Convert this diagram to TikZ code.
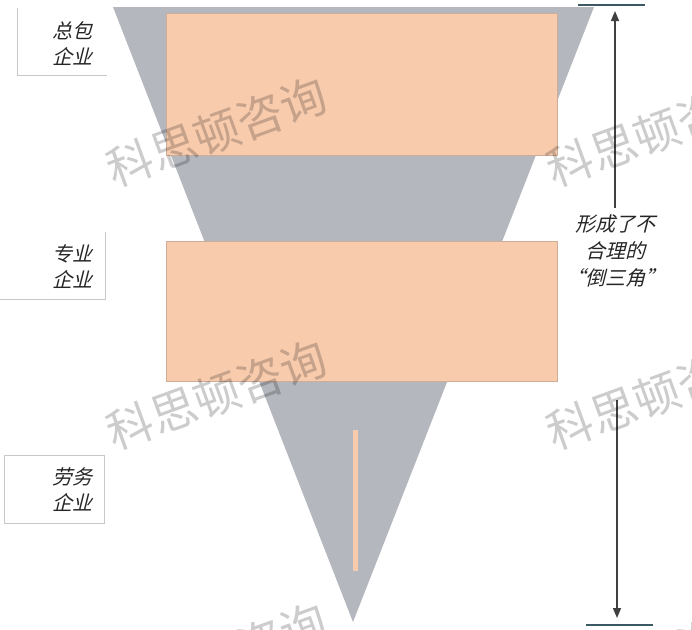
\documentclass[tikz,border=0pt]{standalone}
\usepackage{fontspec}
\usetikzlibrary{arrows.meta}
\newfontfamily\cjk{Noto Sans CJK SC}[FakeSlant=0.25]
\newfontfamily\cjkwm{Noto Sans CJK SC}
\definecolor{funnel}{RGB}{180,183,190}
\definecolor{peach}{RGB}{248,203,173}
\definecolor{peachline}{RGB}{205,172,152}
\definecolor{boxline}{RGB}{200,200,200}
\definecolor{rulecol}{RGB}{60,88,98}

\begin{document}
\begin{tikzpicture}[x=1pt,y=-1pt]
    \tikzstyle{tier}=[fill=peach,draw=peachline,line width=0.4pt]
    \tikzstyle{lbl}=[font=\cjk\fontsize{20}{26}\selectfont,align=center,text=black!85,inner sep=0pt]
    \tikzstyle{wmark}=[font=\cjkwm\fontsize{46}{46}\selectfont,text=black,opacity=0.2,rotate=20,inner sep=0pt]
    \tikzstyle{arrow}=[draw=black!75,line width=1.5pt,-{Triangle[length=10pt,width=8pt]}]
    \useasboundingbox (0,0) rectangle (692,629);

    % the inverted triangle
    \fill[funnel] (113,7) -- (594,7) -- (353,622) -- cycle;
    \draw[tier] (166,13) rectangle (557,155);
    \draw[tier] (166,241) rectangle (557,381);
    \fill[peach] (353,430) rectangle (358,571);

    % labels on the left
    \draw[boxline] (17,8) -- (17,75) -- (107,75);
    \draw[boxline] (0,299) -- (105,299) -- (105,232);
    \draw[boxline] (4,455) rectangle (104,523);
    \node (zb)[lbl] at (72,44) {总包\\企业};
    \node (zy)[lbl] at (72,267) {专业\\企业};
    \node (lw)[lbl] at (72,490) {劳务\\企业};

    % right side
    \node (inv)[lbl,font=\cjk\fontsize{20}{27}\selectfont] at (615,251) {形成了不\\合理的\\“倒三角”};
    \coordinate (upS) at (615,208);
    \coordinate (upE) at (615,11);
    \coordinate (dnS) at (617,400);
    \coordinate (dnE) at (617,618);
    \draw[arrow] (upS) -- (upE);
    \draw[arrow] (dnS) -- (dnE);
    \draw[rulecol,line width=1.5pt] (578,5) -- (645,5);
    \draw[rulecol,line width=1.5pt] (586,625) -- (653,625);

    % watermarks
    \foreach \wx in {217,657}
        \foreach \wy in {132,395,658}
            \node[wmark] at (\wx,\wy) {科思顿咨询};
\end{tikzpicture}
\end{document}
